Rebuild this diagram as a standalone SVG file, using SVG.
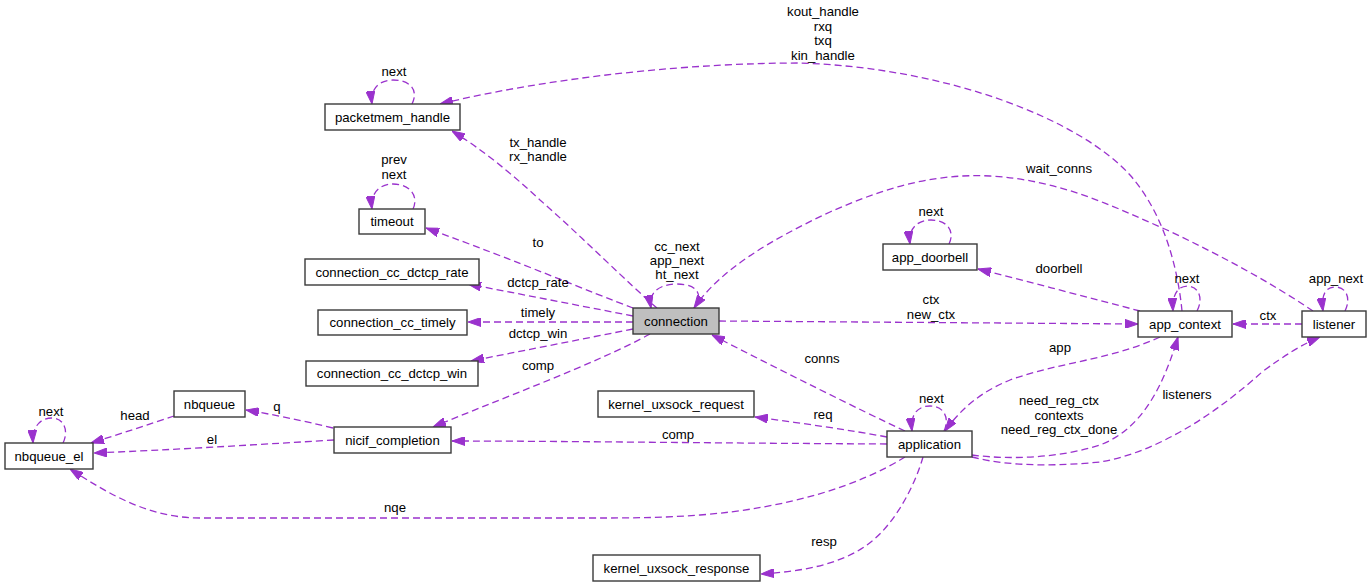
<svg xmlns="http://www.w3.org/2000/svg" width="1372" height="587" viewBox="0 0 1372 587">
<style>
text{font-family:"Liberation Sans",Arial,Helvetica,sans-serif;font-size:13.2px;fill:#000;text-anchor:middle}
.node rect{fill:#fff;stroke:#3a3a3a;stroke-width:1.4}
.node.main rect{fill:#bfbfbf}
.edges path{fill:none;stroke:#9a32cd;stroke-width:1.3;stroke-dasharray:7,4;marker-end:url(#ah)}
</style>
<defs>
<marker id="ah" markerUnits="userSpaceOnUse" viewBox="0 0 13 9" markerWidth="13" markerHeight="9" refX="13" refY="4.5" orient="auto">
<path d="M0,0 L13,4.5 L0,9 z" fill="#9a32cd" stroke="#9a32cd" stroke-width="1"/>
</marker>
</defs>
<rect width="1372" height="587" fill="#fff"/>
<g class="edges">
<path d="M412,104 C419,90 410,80 393,80 C380,80 370,88 372,104"/>
<path d="M1182,311 C1178,270 1165,215 1130,175 C1080,120 950,68 800,63 C700,63 560,75 440,104"/>
<path d="M657,308 C630,285 580,235 540,200 C510,172 480,148 452,131"/>
<path d="M413,209 C419,196 410,184 393,184 C380,184 370,193 372,209"/>
<path d="M633,308 C590,292 520,262 426,228"/>
<path d="M633,316 L468,284"/>
<path d="M633,322 L468,322"/>
<path d="M633,329 L471,361"/>
<path d="M650,334 C600,362 490,403 433,427"/>
<path d="M694,308 C704,296 698,284 677,284 C660,284 648,292 651,308"/>
<path d="M1313,311 C1270,282 1220,255 1167,230 C1110,205 1060,180 990,176 C930,173 880,190 830,212 C770,240 720,270 694,308"/>
<path d="M719,321 L1138,324"/>
<path d="M1140,311 C1090,298 1030,282 978,269"/>
<path d="M949,244 C955,232 948,220 931,220 C918,220 908,228 910,244"/>
<path d="M1197,311 C1203,300 1200,287 1188,286 C1178,286 1172,294 1173,311"/>
<path d="M1302,324 L1233,324"/>
<path d="M1345,311 C1351,299 1347,287 1335,287 C1325,287 1321,296 1323,311"/>
<path d="M905,431 C860,410 780,370 712,335"/>
<path d="M1160,337 C1110,360 1060,362 1010,380 C980,392 960,410 945,431"/>
<path d="M972,455 C1010,460 1060,458 1100,445 C1145,428 1165,380 1178,337"/>
<path d="M972,457 C1010,467 1060,466 1100,462 C1160,452 1220,410 1262,372 C1285,355 1303,344 1320,337"/>
<path d="M944,431 C950,418 944,406 930,406 C918,406 910,414 912,431"/>
<path d="M887,437 C850,430 800,423 755,417"/>
<path d="M887,444 C700,443 550,441 452,441"/>
<path d="M905,457 C860,485 790,508 700,515 C660,518 630,518 590,518 L200,518 C150,518 110,495 70,469"/>
<path d="M923,457 C915,485 895,525 867,545 C835,568 790,572 761,574"/>
<path d="M333,428 C300,420 270,414 246,410"/>
<path d="M334,440 C250,445 170,450 94,453"/>
<path d="M174,416 C150,424 120,434 91,443"/>
<path d="M63,443 C69,431 64,418 52,418 C40,418 32,427 33,443"/>
</g>
<g class="labels">
<text x="394" y="76">next</text>
<text x="823" y="16">kout_handle</text>
<text x="823" y="30.5">rxq</text>
<text x="823" y="45">txq</text>
<text x="823" y="59.5">kin_handle</text>
<text x="538" y="147">tx_handle</text>
<text x="538" y="161">rx_handle</text>
<text x="394" y="164">prev</text>
<text x="394" y="179">next</text>
<text x="538" y="247">to</text>
<text x="538" y="287">dctcp_rate</text>
<text x="538" y="317">timely</text>
<text x="538" y="338">dctcp_win</text>
<text x="538" y="370">comp</text>
<text x="677" y="251">cc_next</text>
<text x="677" y="265">app_next</text>
<text x="677" y="279">ht_next</text>
<text x="1059" y="173">wait_conns</text>
<text x="931" y="304">ctx</text>
<text x="931" y="319">new_ctx</text>
<text x="1059" y="273">doorbell</text>
<text x="931" y="216">next</text>
<text x="1187" y="283">next</text>
<text x="1268" y="320">ctx</text>
<text x="1336" y="283">app_next</text>
<text x="822" y="363">conns</text>
<text x="1060" y="352">app</text>
<text x="1059" y="405">need_reg_ctx</text>
<text x="1059" y="419.5">contexts</text>
<text x="1059" y="434">need_reg_ctx_done</text>
<text x="1187" y="399">listeners</text>
<text x="931.5" y="403">next</text>
<text x="823" y="419">req</text>
<text x="678" y="439">comp</text>
<text x="395" y="512">nqe</text>
<text x="824" y="546">resp</text>
<text x="277" y="411">q</text>
<text x="212" y="444">el</text>
<text x="135" y="420">head</text>
<text x="51" y="416">next</text>
</g>
<g id="packetmem_handle" class="node"><rect x="325" y="104" width="135" height="26"/><text x="392.5" y="121.5">packetmem_handle</text></g>
<g id="timeout" class="node"><rect x="359" y="209" width="66" height="25"/><text x="392" y="226">timeout</text></g>
<g id="connection_cc_dctcp_rate" class="node"><rect x="305" y="259" width="174" height="26"/><text x="392" y="276.5">connection_cc_dctcp_rate</text></g>
<g id="connection_cc_timely" class="node"><rect x="318" y="310" width="149" height="25"/><text x="392.5" y="327">connection_cc_timely</text></g>
<g id="connection_cc_dctcp_win" class="node"><rect x="306" y="361" width="172" height="25"/><text x="392" y="378">connection_cc_dctcp_win</text></g>
<g id="connection" class="node main"><rect x="633" y="308" width="86" height="26"/><text x="676" y="325.5">connection</text></g>
<g id="app_doorbell" class="node"><rect x="883" y="244" width="94" height="26"/><text x="930" y="261.5">app_doorbell</text></g>
<g id="app_context" class="node"><rect x="1138" y="311" width="94" height="26"/><text x="1185" y="328.5">app_context</text></g>
<g id="listener" class="node"><rect x="1302" y="311" width="64" height="26"/><text x="1334" y="328.5">listener</text></g>
<g id="application" class="node"><rect x="887" y="431" width="85" height="26"/><text x="929.5" y="448.5">application</text></g>
<g id="kernel_uxsock_request" class="node"><rect x="598" y="391" width="156" height="26"/><text x="676" y="408.5">kernel_uxsock_request</text></g>
<g id="kernel_uxsock_response" class="node"><rect x="593" y="555" width="167" height="26"/><text x="676.5" y="572.5">kernel_uxsock_response</text></g>
<g id="nbqueue" class="node"><rect x="174" y="391" width="71" height="26"/><text x="209.5" y="408.5">nbqueue</text></g>
<g id="nicif_completion" class="node"><rect x="334" y="427" width="117" height="26"/><text x="392.5" y="444.5">nicif_completion</text></g>
<g id="nbqueue_el" class="node"><rect x="5" y="443" width="88" height="26"/><text x="49" y="460.5">nbqueue_el</text></g>
</svg>
